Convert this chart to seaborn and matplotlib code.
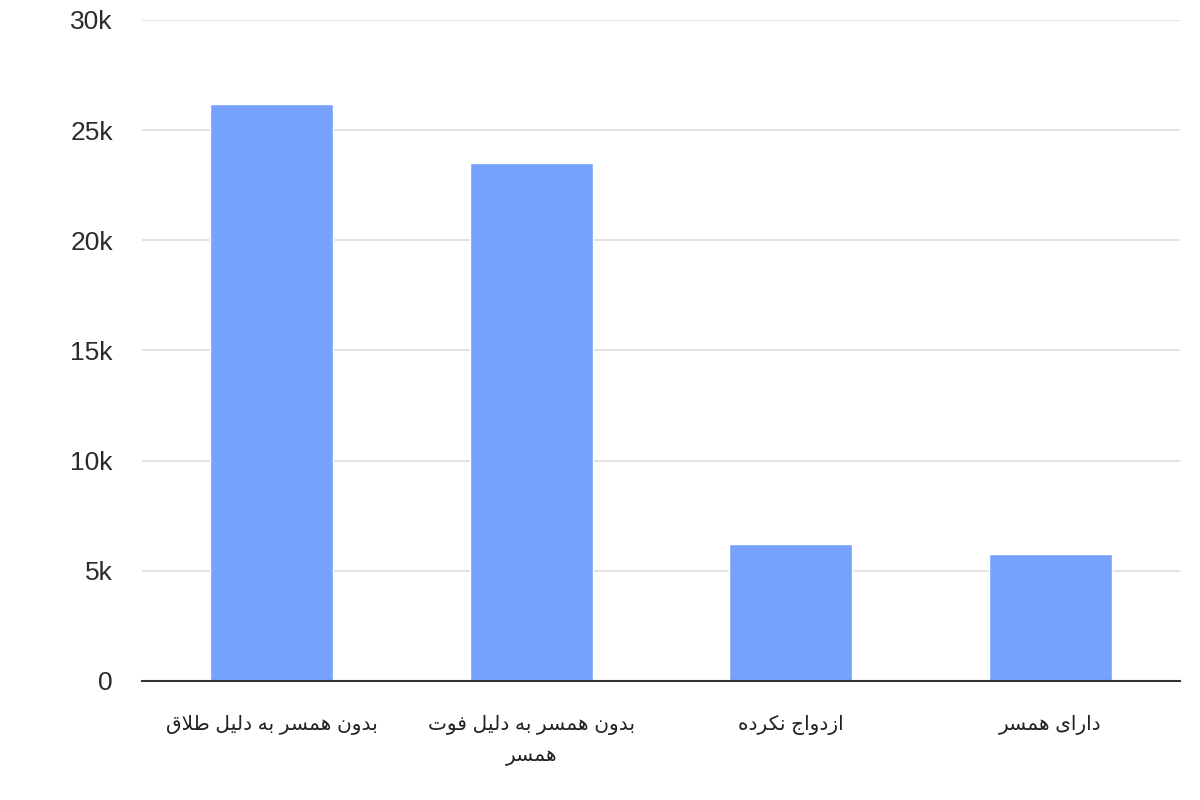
import matplotlib
matplotlib.use("Agg")
import matplotlib.pyplot as plt
import seaborn as sns
import pandas as pd

# ---- data ----
categories = ["بدون همسر به دلیل طلاق", "بدون همسر به دلیل فوت\nهمسر", "ازدواج نکرده", "دارای همسر"]
values = [26200, 23500, 6220, 5760]
y_ticks = [0, 5000, 10000, 15000, 20000, 25000, 30000]
y_tick_labels = ["0", "5k", "10k", "15k", "20k", "25k", "30k"]

# ---- minimal Arabic/Persian shaping (matplotlib has no shaping/bidi) ----
FORMS = {  # isolated, final, initial, medial
    'ا': ('\uFE8D', '\uFE8E', None, None),
    'ب': ('\uFE8F', '\uFE90', '\uFE91', '\uFE92'),
    'ت': ('\uFE95', '\uFE96', '\uFE97', '\uFE98'),
    'ج': ('\uFE9D', '\uFE9E', '\uFE9F', '\uFEA0'),
    'د': ('\uFEA9', '\uFEAA', None, None),
    'ر': ('\uFEAD', '\uFEAE', None, None),
    'ز': ('\uFEAF', '\uFEB0', None, None),
    'س': ('\uFEB1', '\uFEB2', '\uFEB3', '\uFEB4'),
    'ط': ('\uFEC1', '\uFEC2', '\uFEC3', '\uFEC4'),
    'ف': ('\uFED1', '\uFED2', '\uFED3', '\uFED4'),
    'ق': ('\uFED5', '\uFED6', '\uFED7', '\uFED8'),
    'ل': ('\uFEDD', '\uFEDE', '\uFEDF', '\uFEE0'),
    'م': ('\uFEE1', '\uFEE2', '\uFEE3', '\uFEE4'),
    'ن': ('\uFEE5', '\uFEE6', '\uFEE7', '\uFEE8'),
    'ه': ('\uFEE9', '\uFEEA', '\uFEEB', '\uFEEC'),
    'و': ('\uFEED', '\uFEEE', None, None),
    'ی': ('\uFBFC', '\uFBFD', '\uFBFE', '\uFBFF'),
    'ک': ('\uFB8E', '\uFB8F', '\uFB90', '\uFB91'),
}


def shape_line(s):
    out = []
    i = 0
    n = len(s)
    while i < n:
        c = s[i]
        if c not in FORMS:
            out.append(c)
            i += 1
            continue
        prev = s[i - 1] if i > 0 else None
        joins_prev = prev in FORMS and FORMS[prev][2] is not None
        if c == 'ل' and i + 1 < n and s[i + 1] == 'ا':
            out.append('\uFEFC' if joins_prev else '\uFEFB')
            i += 2
            continue
        nxt = s[i + 1] if i + 1 < n else None
        joins_next = FORMS[c][2] is not None and nxt in FORMS
        iso, fin, ini, med = FORMS[c]
        if joins_prev and joins_next:
            out.append(med)
        elif joins_prev:
            out.append(fin)
        elif joins_next:
            out.append(ini)
        else:
            out.append(iso)
        i += 1
    return ''.join(reversed(out))


def shape(s):
    return '\n'.join(shape_line(line) for line in s.split('\n'))


shaped = [shape(c) for c in categories]
df = pd.DataFrame({"cat": shaped, "val": values})

sns.set_theme(style="white")
plt.rcParams['font.family'] = ['Liberation Sans', 'DejaVu Sans']

fig = plt.figure(figsize=(12, 8), dpi=100)
ax = fig.add_axes([0.1183, 0.14875, 0.865, 0.82625])

sns.barplot(data=df, x="cat", y="val", color="#76a1fc", saturation=1,
            width=0.475, ax=ax, zorder=3)

ax.set_xlim(-0.5, 3.5)
ax.set_ylim(0, 30000)
ax.set_yticks(y_ticks)
ax.set_yticklabels(y_tick_labels, fontsize=19, color="#2b2b2b")
ax.tick_params(axis='y', length=0, pad=21)
ax.tick_params(axis='x', length=0, pad=24.5, labelsize=14.5, labelcolor="#222222")
for lbl in ax.get_xticklabels():
    lbl.set_linespacing(1.75)
ax.set_xlabel("")
ax.set_ylabel("")
ax.yaxis.grid(True, color="#e0e0e0", linewidth=1.3, zorder=0)
ax.set_axisbelow(True)
for side in ["top", "right", "left"]:
    ax.spines[side].set_visible(False)
ax.spines["bottom"].set_color("#333333")
ax.spines["bottom"].set_linewidth(1.5)
ax.spines["bottom"].set_zorder(4)

fig.savefig("out.png", dpi=100, facecolor="white")
